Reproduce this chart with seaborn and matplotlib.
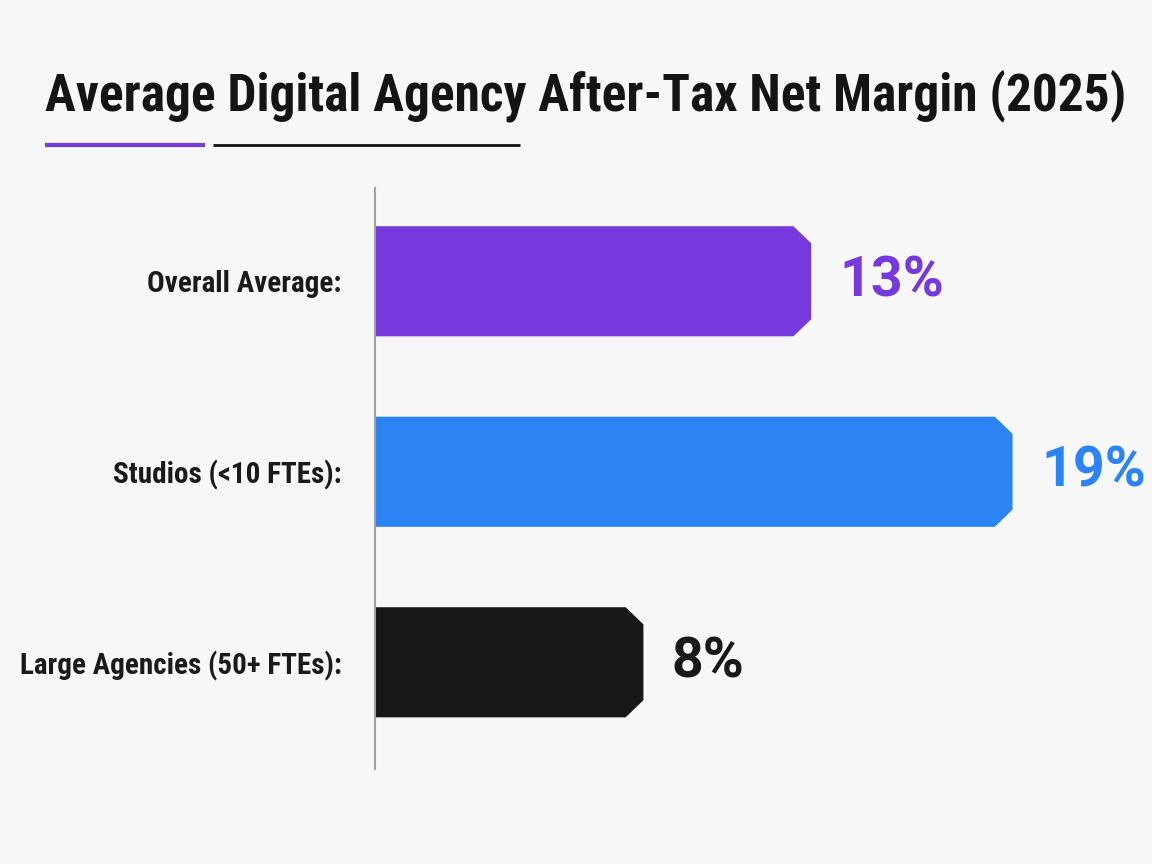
import matplotlib
matplotlib.use("Agg")
import matplotlib.pyplot as plt
from matplotlib.patches import Polygon
from matplotlib.lines import Line2D
import seaborn as sns

# data
categories = ["Overall Average:", "Studios (<10 FTEs):", "Large Agencies (50+ FTEs):"]
margins = [13, 19, 8]
bar_colors = ["#7539de", "#2c84f4", "#18181a"]
title = "Average Digital Agency After-Tax Net Margin (2025)"

bg = "#f7f7f7"
sns.set_theme(style="white")
plt.rcParams["font.family"] = ["Roboto Condensed", "DejaVu Sans"]

fig = plt.figure(figsize=(11.52, 8.64), dpi=100, facecolor=bg)
ax = fig.add_axes([0.3255, 0.110, 0.6554, 0.6725], facecolor=bg)

sns.barplot(x=margins, y=categories, hue=categories, palette=bar_colors,
            legend=False, orient="h", width=0.578, saturation=1, ax=ax)

ax.set_xlim(0, 22.5)
ax.set_ylim(2.56, -0.49)

# chamfer the right corners of the bars
cut_x, cut_y = 0.53, 0.09
for p in list(ax.patches):
    x0, y0 = p.get_x(), p.get_y()
    w, h = p.get_width(), p.get_height()
    x1, y1 = x0 + w, y0 + h
    pts = [(x0, y0), (x1 - cut_x, y0), (x1, y0 + cut_y),
           (x1, y1 - cut_y), (x1 - cut_x, y1), (x0, y1)]
    ax.add_patch(Polygon(pts, closed=True, facecolor=p.get_facecolor(),
                         edgecolor="none", zorder=2))
    p.set_visible(False)

for i, (v, c) in enumerate(zip(margins, bar_colors)):
    ax.text(v + 0.85, i, f"{v}%", color=c, fontsize=40, fontweight="bold",
            family=["Roboto", "DejaVu Sans"], va="center", ha="left")

for s in ["top", "right", "bottom"]:
    ax.spines[s].set_visible(False)
ax.spines["left"].set_color("#a3a3a3")
ax.spines["left"].set_linewidth(1.5)
ax.set_xticks([])
ax.set_xlabel("")
ax.set_ylabel("")
ax.tick_params(axis="y", length=0, pad=24)
for lab in ax.get_yticklabels():
    lab.set_fontsize(21)
    lab.set_fontweight("bold")
    lab.set_color("#1a1a1a")

fig.text(45 / 1152, 1 - 110 / 864, title, fontsize=37, fontweight="bold",
         color="#141414", va="baseline", ha="left")

# underline accents below the title
fig.add_artist(Line2D([45 / 1152, 205 / 1152], [1 - 145 / 864] * 2,
                      color="#7539de", lw=3, solid_capstyle="butt"))
fig.add_artist(Line2D([213 / 1152, 520 / 1152], [1 - 145 / 864] * 2,
                      color="#141414", lw=2, solid_capstyle="butt"))

fig.savefig("out.png", dpi=100, facecolor=bg)
